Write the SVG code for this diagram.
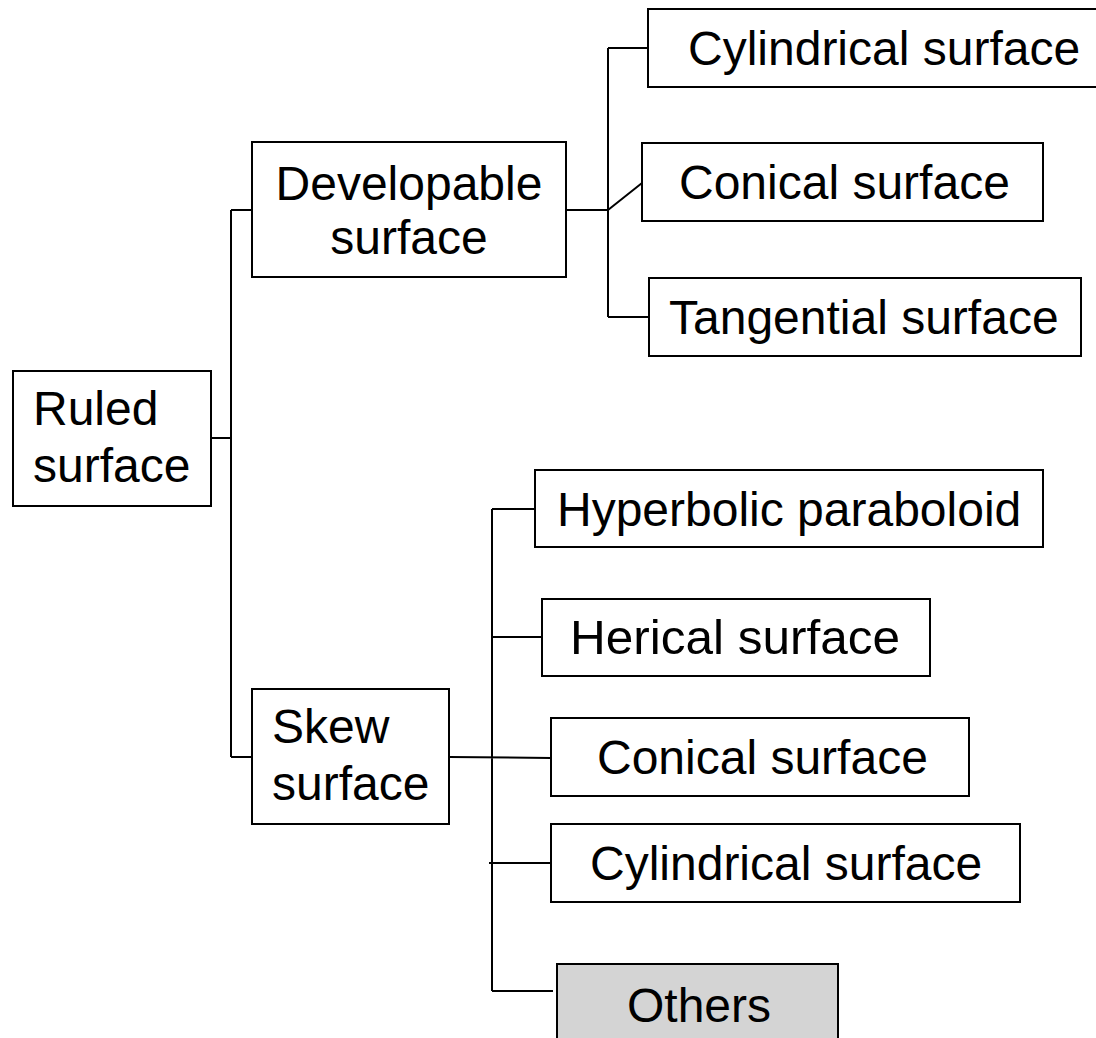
<svg xmlns="http://www.w3.org/2000/svg" width="1096" height="1038" viewBox="0 0 1096 1038">
<style>
.box{fill:#fff;stroke:#000;stroke-width:2}
.gray{fill:#d4d4d4;stroke:#000;stroke-width:2}
.t{font-family:"Liberation Sans",Arial,sans-serif;font-size:48px;fill:#000}
.c{fill:none;stroke:#000;stroke-width:2}
</style>
<rect width="1096" height="1038" fill="#fff"/>
<g id="connectors">
<path class="c" d="M211,438H231M231,210V757M231,210H252M231,757H252"/>
<path class="c" d="M566,210H608M608,48V317M608,48H648M608,210L642,183M608,317H649"/>
<path class="c" d="M449,757L551,758M492,509V991M492,509H535M492,637H542M489,863H551M492,991H553"/>
</g>
<g id="ruled"><rect class="box" x="13" y="371" width="198" height="135"/><text class="t" x="33" y="425">Ruled</text><text class="t" x="33" y="482">surface</text></g>
<g id="developable"><rect class="box" x="252" y="142" width="314" height="135"/><text class="t" x="409" y="200" text-anchor="middle">Developable</text><text class="t" x="409" y="254" text-anchor="middle">surface</text></g>
<g id="skew"><rect class="box" x="252" y="689" width="197" height="135"/><text class="t" x="272" y="743">Skew</text><text class="t" x="272" y="800">surface</text></g>
<g id="cylindrical1"><rect class="box" x="648" y="9" width="452" height="78"/><text class="t" x="688" y="65">Cylindrical surface</text></g>
<g id="conical1"><rect class="box" x="642" y="143" width="401" height="78"/><text class="t" x="679" y="199">Conical surface</text></g>
<g id="tangential"><rect class="box" x="649" y="278" width="432" height="78"/><text class="t" x="669" y="334">Tangential surface</text></g>
<g id="hyperbolic"><rect class="box" x="535" y="470" width="508" height="77"/><text class="t" x="557" y="526">Hyperbolic paraboloid</text></g>
<g id="herical"><rect class="box" x="542" y="599" width="388" height="77"/><text class="t" x="570" y="654" font-size="44" textLength="330" lengthAdjust="spacingAndGlyphs">Herical surface</text></g>
<g id="conical2"><rect class="box" x="551" y="718" width="418" height="78"/><text class="t" x="597" y="774">Conical surface</text></g>
<g id="cylindrical2"><rect class="box" x="551" y="824" width="469" height="78"/><text class="t" x="590" y="880">Cylindrical surface</text></g>
<g id="others"><rect class="gray" x="557" y="964" width="281" height="90"/><text class="t" x="627" y="1022">Others</text></g>
</svg>
